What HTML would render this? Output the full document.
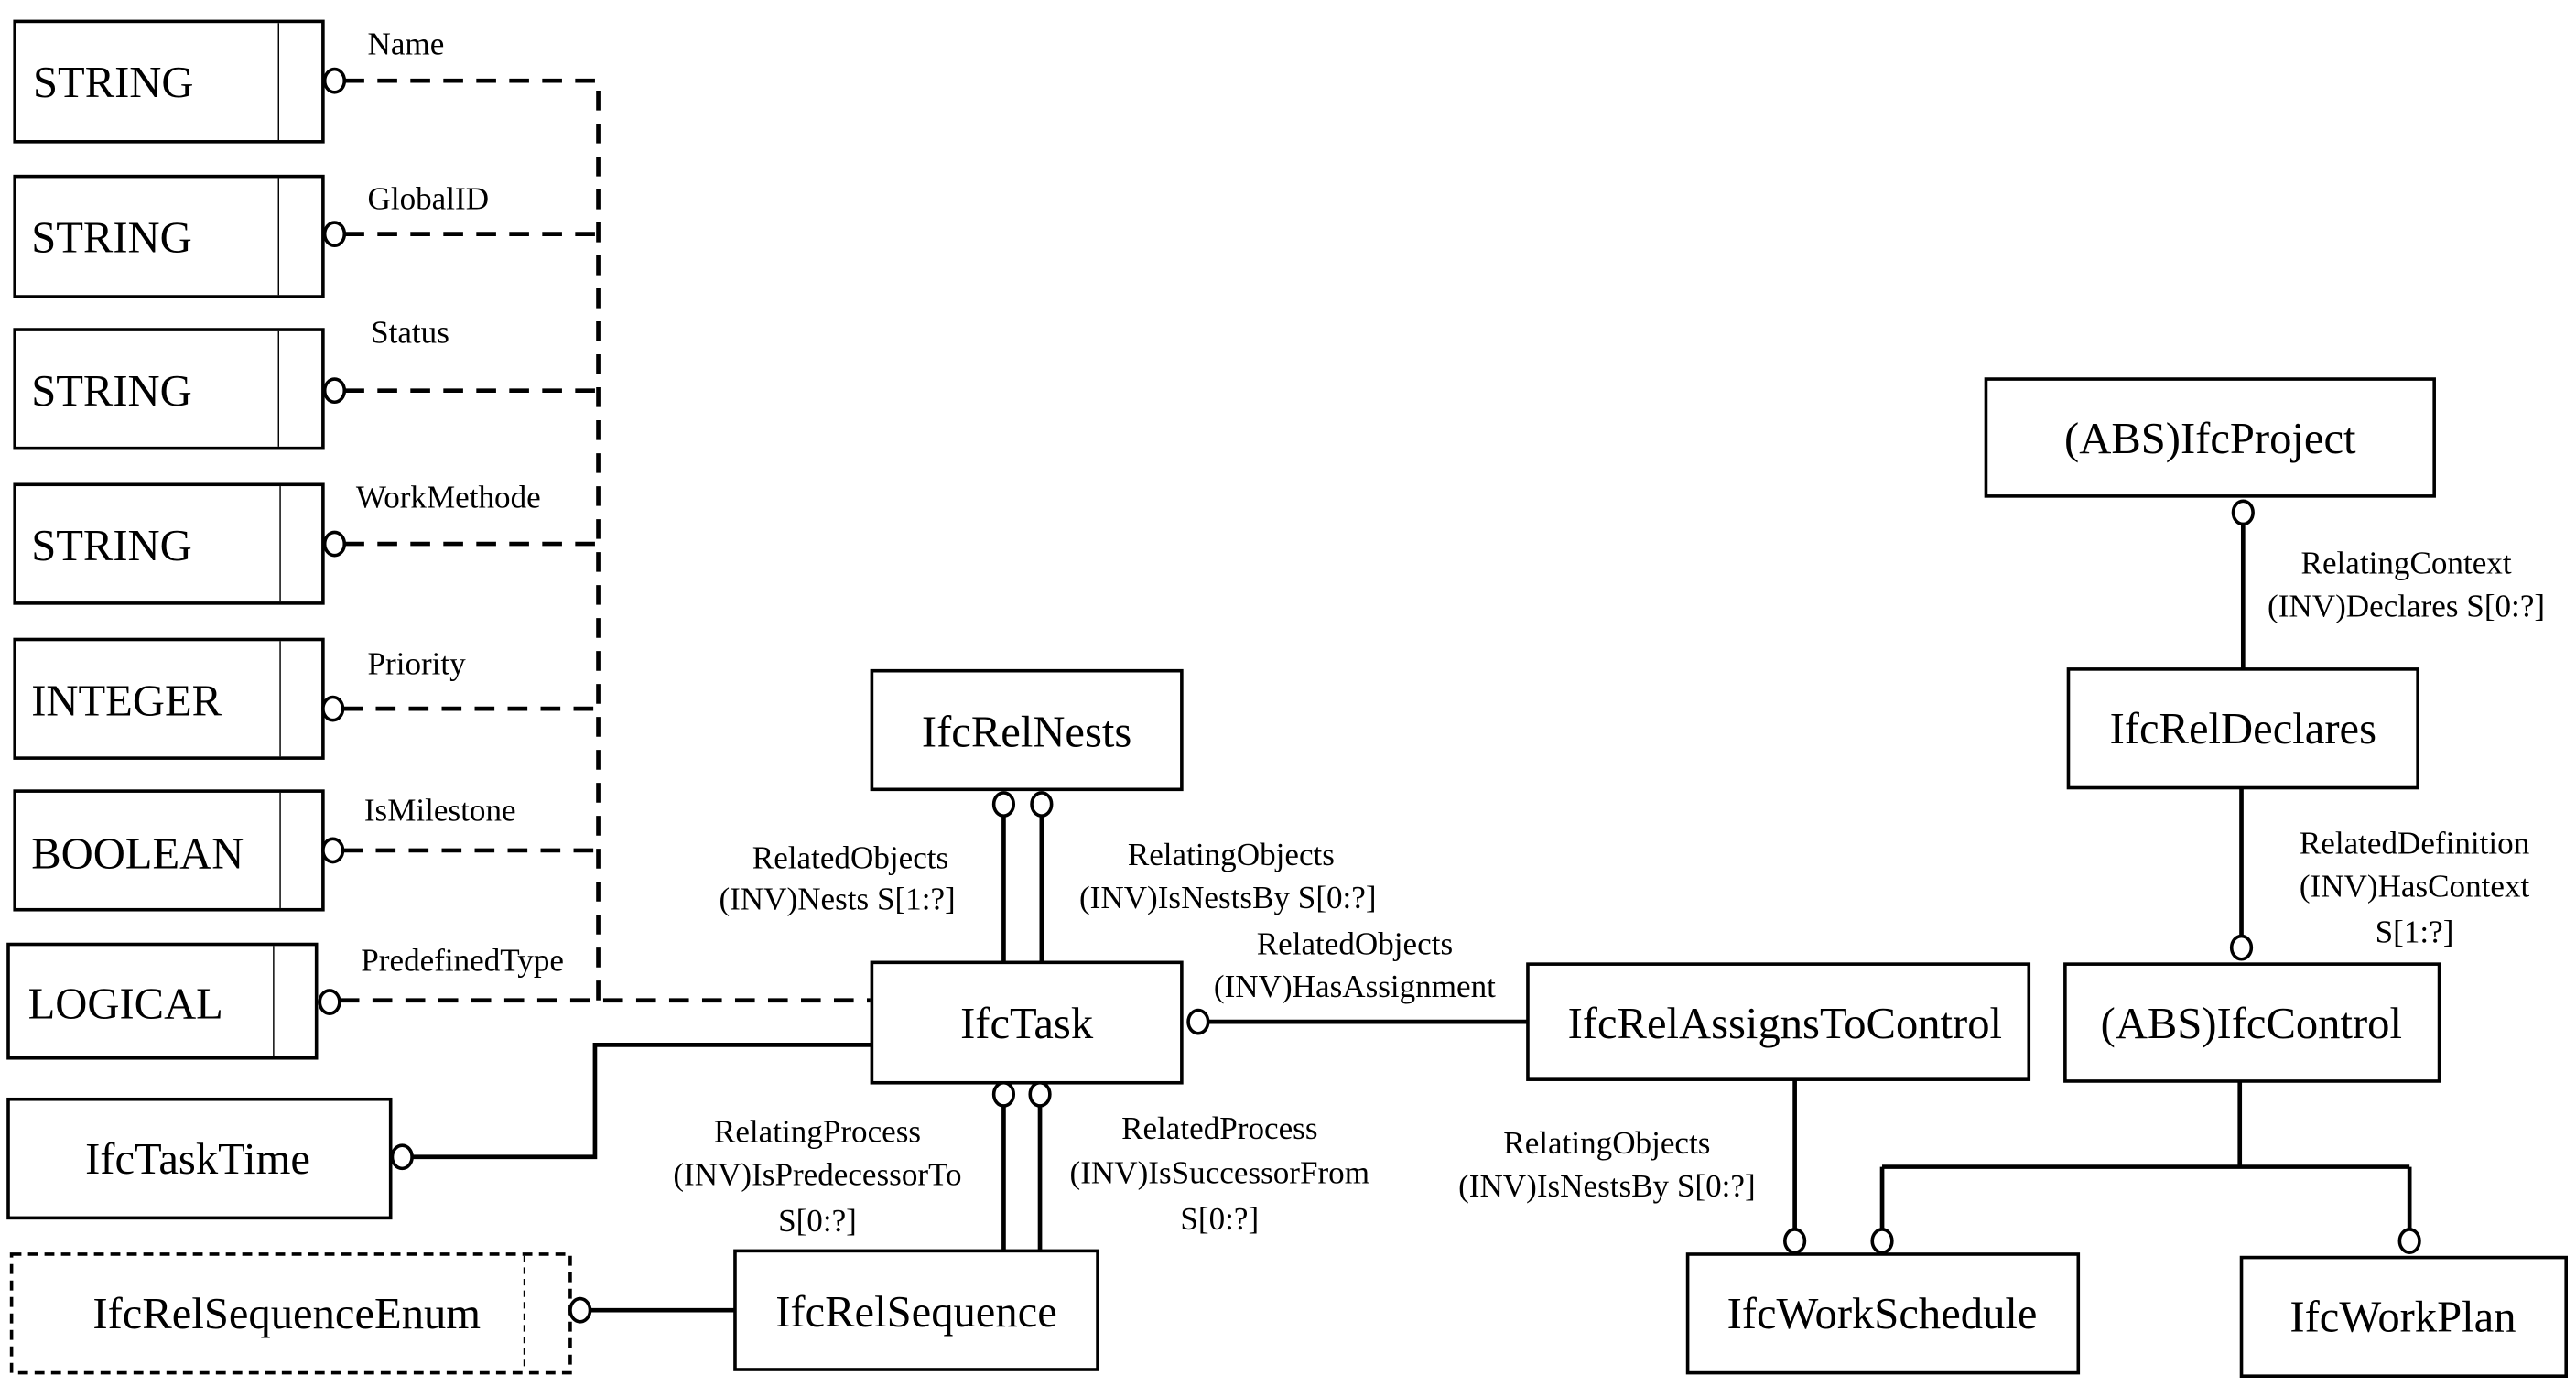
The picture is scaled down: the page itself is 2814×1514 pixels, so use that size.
<!DOCTYPE html>
<html><head><meta charset="utf-8"><style>
html,body{margin:0;padding:0;background:#fff;}
svg{display:block;}
text{font-family:"Liberation Serif",serif;fill:#000;}
.b{font-size:27px;}
.l{font-size:19.5px;}
</style></head><body>
<svg width="2814" height="1514" viewBox="0 0 1563 841" preserveAspectRatio="none" xmlns="http://www.w3.org/2000/svg">
<g fill="#fff" stroke="#000" stroke-width="2">
<rect x="9" y="13" width="187" height="73"/>
<rect x="9" y="107" width="187" height="73"/>
<rect x="9" y="200" width="187" height="72"/>
<rect x="9" y="294" width="187" height="72"/>
<rect x="9" y="388" width="187" height="72"/>
<rect x="9" y="480" width="187" height="72"/>
<rect x="5" y="573" width="187" height="69"/>
<rect x="5" y="667" width="232" height="72"/>
<rect x="7" y="761" width="339" height="72" stroke-dasharray="6,4"/>
<rect x="446" y="759" width="220" height="72"/>
<rect x="529" y="584" width="188" height="73"/>
<rect x="529" y="407" width="188" height="72"/>
<rect x="927" y="585" width="304" height="70"/>
<rect x="1024" y="761" width="237" height="72"/>
<rect x="1360" y="763" width="197" height="72"/>
<rect x="1253" y="585" width="227" height="71"/>
<rect x="1205" y="230" width="272" height="71"/>
<rect x="1255" y="406" width="212" height="72"/>
</g>
<g stroke="#000" stroke-width="0.8">
<line x1="169" y1="14" x2="169" y2="85"/><line x1="169" y1="108" x2="169" y2="179"/>
<line x1="169" y1="201" x2="169" y2="271"/><line x1="170" y1="295" x2="170" y2="365"/>
<line x1="170" y1="389" x2="170" y2="459"/><line x1="170" y1="481" x2="170" y2="551"/>
<line x1="166" y1="574" x2="166" y2="641"/>
<line x1="318" y1="762" x2="318" y2="832" stroke-dasharray="4,3"/>
</g>
<g stroke="#000" stroke-width="2.6" fill="none" stroke-dasharray="12,8">
<path d="M209 49H363V607"/>
<path d="M209 142H363"/><path d="M209 237H363"/><path d="M209 330H363"/>
<path d="M208 430H363"/><path d="M208 516H363"/><path d="M206 607H528"/>
</g>
<g stroke="#000" stroke-width="2.6" fill="none">
<path d="M250 702H361V634H529"/>
<path d="M358 795H446"/>
<path d="M609 495V584M632 495V584"/>
<path d="M609 670V759M631 670V759"/>
<path d="M733 620H927"/>
<path d="M1089 655V747"/>
<path d="M1359 656V708M1142 708H1462M1142 708V747M1462 708V747"/>
<path d="M1361 317V406"/>
<path d="M1360 478V569"/>
</g>
<g stroke="#000" stroke-width="2" fill="#fff">
<ellipse cx="203" cy="49" rx="6" ry="7"/><ellipse cx="203" cy="142" rx="6" ry="7"/>
<ellipse cx="203" cy="237" rx="6" ry="7"/><ellipse cx="203" cy="330" rx="6" ry="7"/>
<ellipse cx="202" cy="430" rx="6" ry="7"/><ellipse cx="202" cy="516" rx="6" ry="7"/>
<ellipse cx="200" cy="608" rx="6" ry="7"/><ellipse cx="244" cy="702" rx="6" ry="7"/>
<ellipse cx="352" cy="795" rx="6" ry="7"/>
<ellipse cx="609" cy="488" rx="6" ry="7"/><ellipse cx="632" cy="488" rx="6" ry="7"/>
<ellipse cx="609" cy="664" rx="6" ry="7"/><ellipse cx="631" cy="664" rx="6" ry="7"/>
<ellipse cx="727" cy="620" rx="6" ry="7"/>
<ellipse cx="1089" cy="753" rx="6" ry="7"/><ellipse cx="1142" cy="753" rx="6" ry="7"/>
<ellipse cx="1462" cy="753" rx="6" ry="7"/>
<ellipse cx="1361" cy="311" rx="6" ry="7"/><ellipse cx="1360" cy="575" rx="6" ry="7"/>
</g>
<g class="b">
<text x="20" y="59">STRING</text><text x="19" y="153">STRING</text>
<text x="19" y="246">STRING</text><text x="19" y="340">STRING</text>
<text x="19" y="434">INTEGER</text><text x="19" y="527">BOOLEAN</text>
<text x="17" y="618">LOGICAL</text>
</g>
<g class="b" text-anchor="middle">
<text x="120" y="712">IfcTaskTime</text>
<text x="174" y="806">IfcRelSequenceEnum</text>
<text x="556" y="805">IfcRelSequence</text>
<text x="623" y="630">IfcTask</text>
<text x="623" y="453">IfcRelNests</text>
<text x="1083" y="630">IfcRelAssignsToControl</text>
<text x="1142" y="806">IfcWorkSchedule</text>
<text x="1458" y="808">IfcWorkPlan</text>
<text x="1366" y="630">(ABS)IfcControl</text>
<text x="1341" y="275">(ABS)IfcProject</text>
<text x="1361" y="451">IfcRelDeclares</text>
</g>
<g class="l">
<text x="223" y="33">Name</text><text x="223" y="127">GlobalID</text>
<text x="225" y="208">Status</text><text x="216" y="308">WorkMethode</text>
<text x="223" y="409">Priority</text><text x="221" y="498">IsMilestone</text>
<text x="219" y="589">PredefinedType</text>
</g>
<g class="l" text-anchor="middle">
<text x="516" y="527">RelatedObjects</text><text x="508" y="552">(INV)Nests S[1:?]</text>
<text x="747" y="525">RelatingObjects</text><text x="745" y="551">(INV)IsNestsBy S[0:?]</text>
<text x="822" y="579">RelatedObjects</text><text x="822" y="605">(INV)HasAssignment</text>
<text x="496" y="693">RelatingProcess</text><text x="496" y="719">(INV)IsPredecessorTo</text><text x="496" y="747">S[0:?]</text>
<text x="740" y="691">RelatedProcess</text><text x="740" y="718">(INV)IsSuccessorFrom</text><text x="740" y="746">S[0:?]</text>
<text x="975" y="700">RelatingObjects</text><text x="975" y="726">(INV)IsNestsBy S[0:?]</text>
<text x="1460" y="348">RelatingContext</text><text x="1460" y="374">(INV)Declares S[0:?]</text>
<text x="1465" y="518">RelatedDefinition</text><text x="1465" y="544">(INV)HasContext</text><text x="1465" y="572">S[1:?]</text>
</g>
</svg>
</body></html>
